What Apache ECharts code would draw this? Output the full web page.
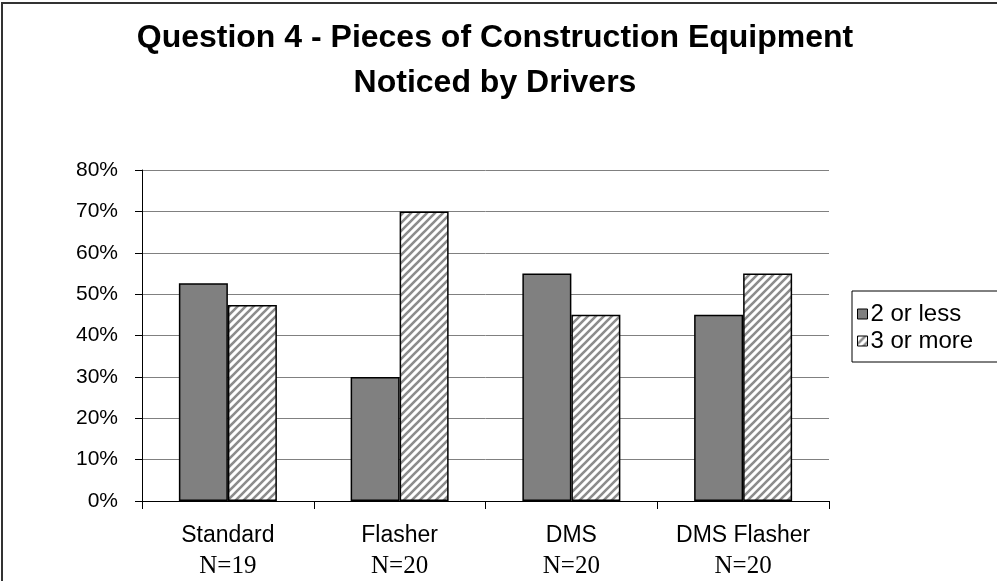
<!DOCTYPE html>
<html>
<head>
<meta charset="utf-8">
<script src="https://cdn.jsdelivr.net/npm/echarts@6/dist/echarts.min.js"></script>
<style>
html,body{margin:0;padding:0;background:#fff;}
#chart{width:997px;height:581px;}
</style>
</head>
<body>
<div id="chart"></div>
<script>
const categories = ['Standard', 'Flasher', 'DMS', 'DMS Flasher'];
const sampleSizes = ['N=19', 'N=20', 'N=20', 'N=20'];
const seriesNames = ['2 or less', '3 or more'];
const twoOrLess = [52.6, 30, 55, 45];
const threeOrMore = [47.4, 70, 45, 55];

function makeHatch() {
  const c = document.createElement('canvas');
  const s = 8;
  c.width = s; c.height = s;
  const g = c.getContext('2d');
  g.fillStyle = '#ffffff';
  g.fillRect(0, 0, s, s);
  g.strokeStyle = '#8c8c8c';
  g.lineWidth = 2.6;
  g.beginPath();
  g.moveTo(-2, s + 2); g.lineTo(s + 2, -2);
  g.moveTo(-2, 2); g.lineTo(2, -2);
  g.moveTo(s - 2, s + 2); g.lineTo(s + 2, s - 2);
  g.stroke();
  return c;
}
const hatch = { image: makeHatch(), repeat: 'repeat' };

const chart = echarts.init(document.getElementById('chart'), null, { renderer: 'canvas' });
const sans = 'Liberation Sans, Arial, sans-serif';
const serif = 'Liberation Serif, Times New Roman, serif';

chart.setOption({
  backgroundColor: '#ffffff',
  animation: false,
  title: {
    text: 'Question 4 - Pieces of Construction Equipment\nNoticed by Drivers',
    left: 490,
    top: 11,
    textAlign: 'center',
    textStyle: { fontFamily: sans, fontSize: 32, fontWeight: 'bold', color: '#000', lineHeight: 45 }
  },
  graphic: [{
    type: 'rect',
    shape: { x: 2, y: 3, width: 1200, height: 800 },
    style: { fill: 'none', stroke: '#333', lineWidth: 2 },
    silent: true,
    z: 100
  }],
  legend: {
    orient: 'vertical',
    left: 852,
    top: 291,
    padding: [11, 80, 9, 5],
    itemGap: 3,
    itemWidth: 10,
    itemHeight: 10,
    borderColor: '#000',
    borderWidth: 1,
    backgroundColor: '#fff',
    icon: 'rect',
    itemStyle: { borderColor: '#000', borderWidth: 1 },
    textStyle: { fontFamily: sans, fontSize: 24, color: '#000', padding: [0, 0, 0, -2] },
    data: seriesNames
  },
  grid: { left: 142, right: 168, top: 170, bottom: 80, containLabel: false },
  xAxis: {
    type: 'category',
    data: categories,
    axisLine: { lineStyle: { color: '#000', width: 1 } },
    axisTick: { show: true, length: 8, lineStyle: { color: '#000' } },
    axisLabel: {
      margin: 20,
      interval: 0,
      formatter: function (v, i) { return '{a|' + v + '}\n{b|' + sampleSizes[i] + '}'; },
      rich: {
        a: { fontFamily: sans, fontSize: 23, color: '#000', lineHeight: 30 },
        b: { fontFamily: serif, fontSize: 25, color: '#000', lineHeight: 30 }
      }
    }
  },
  yAxis: {
    type: 'value',
    min: 0,
    max: 80,
    interval: 10,
    axisLine: { show: true, lineStyle: { color: '#000', width: 1 } },
    axisTick: { show: true, length: 7, lineStyle: { color: '#000' } },
    axisLabel: { formatter: '{value}%', fontFamily: sans, fontSize: 21, color: '#000', margin: 24 },
    splitLine: { show: true, lineStyle: { color: '#808080', width: 1 } }
  },
  series: [
    {
      name: seriesNames[0],
      type: 'bar',
      data: twoOrLess,
      barWidth: 49,
      barGap: '0%',
      itemStyle: { color: '#808080', borderColor: '#000', borderWidth: 1.5 }
    },
    {
      name: seriesNames[1],
      type: 'bar',
      data: threeOrMore,
      barWidth: 49,
      barGap: '0%',
      itemStyle: { color: hatch, borderColor: '#000', borderWidth: 1.5 }
    }
  ]
});
</script>
</body>
</html>
